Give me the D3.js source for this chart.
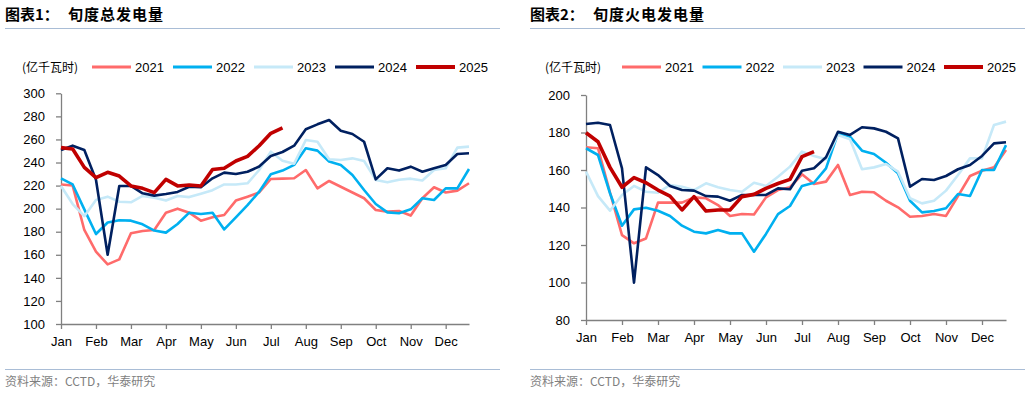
<!DOCTYPE html>
<html>
<head>
<meta charset="utf-8">
<script src="https://cdn.jsdelivr.net/npm/d3@7"></script>
<style>
  body { margin: 0; background: #fff; }
  svg { display: block; }
  .tick text { font-family: "Liberation Sans", Arial, sans-serif; font-size: 13px; fill: #000; }
</style>
</head>
<body>
<svg id="chart" width="1030" height="393"></svg>
<script>
const months = ['Jan', 'Feb', 'Mar', 'Apr', 'May', 'Jun', 'Jul', 'Aug', 'Sep', 'Oct', 'Nov', 'Dec'];
const years = ['2021', '2022', '2023', '2024', '2025'];
const colors = ['#ff6b6b', '#00b0f0', '#c6e9f8', '#002060', '#c00000'];

// 旬度总发电量 (亿千瓦时), 36 dekads per year
const total2021 = [221, 220, 181.5, 162.7, 151.7, 156, 178.6, 180.6, 181.5, 196.5, 200, 196.5, 189.6, 192.5, 194.5, 207, 210.4, 214, 225.7, 226, 226.3, 233.5, 217.6, 224, 219, 214, 209, 198.8, 197.4, 198, 194, 209, 218.5, 214, 215.6, 222];
const total2022 = [226.3, 221, 199.4, 178, 188, 190, 189.6, 186.4, 181, 179.2, 186.7, 196.5, 195.4, 196.5, 182, 192.5, 203, 214.7, 229.8, 233, 237.9, 252.3, 250.3, 240.8, 237.9, 229.2, 216.2, 204, 196.8, 196, 199.4, 209, 207.5, 217.6, 217.6, 234.4];
const total2023 = [219.7, 204, 193.5, 207.5, 210.4, 206, 205.5, 211, 209.5, 207, 211, 210, 213, 216, 221, 221, 222, 233.5, 249.4, 241.6, 239, 259.5, 258, 242.8, 242.2, 243.6, 241.3, 224.9, 222.8, 225, 226, 224.4, 233.5, 235, 252.9, 253.8];
const total2024 = [250.9, 254.6, 250.9, 225, 160, 219.7, 219.7, 213.3, 211.3, 212.7, 214.5, 219, 218.5, 226.3, 231.2, 230, 232, 236.5, 245.7, 249.1, 254.6, 268.8, 273.1, 276.9, 267.6, 264.7, 258, 225.4, 235, 233, 236.4, 232, 235, 237.9, 247.4, 248];
const total2025 = [252.9, 251.7, 235.8, 226.9, 231.5, 228.3, 219.7, 217.6, 213.9, 225.4, 219.7, 220.5, 219.7, 234, 235, 241.3, 245.3, 254.5, 265.3, 270];

// 旬度火电发电量 (亿千瓦时)
const thermal2021 = [172.1, 171.6, 148, 125.3, 120.9, 123.5, 142.6, 142.6, 142.6, 145.4, 144.9, 141.3, 135.5, 136.5, 136.3, 145.4, 149.3, 150.8, 157.7, 152.5, 153.8, 162.7, 146.7, 148.4, 148.1, 143.6, 140.1, 135.1, 135.5, 136.5, 135.5, 146.1, 156.8, 159.6, 161.4, 170.7];
const thermal2022 = [171.6, 168, 147.6, 130.3, 139, 139.9, 138.3, 135.5, 130.3, 127.1, 126.2, 128, 126.2, 126.2, 116.4, 125.9, 136.5, 140.8, 151.5, 153.2, 160.9, 179.6, 177.8, 170.3, 168.5, 163.9, 158.2, 143.6, 137.4, 138.1, 139.6, 147.2, 146.1, 160, 160, 173.3];
const thermal2023 = [159.1, 146.1, 138.3, 146.7, 151.5, 148.4, 147.9, 152, 151.1, 149.3, 152.9, 150.8, 149.3, 148.4, 153.2, 151.5, 156.4, 161.8, 169.8, 167.5, 165.7, 178.7, 176.4, 160.4, 161.4, 163.2, 159.1, 144.9, 142.2, 143.6, 149, 157.3, 166.2, 166.2, 184, 185.8];
const thermal2024 = [184.5, 185.2, 184, 160.9, 99.9, 161.4, 157.3, 151.5, 149.3, 149, 146.1, 145.8, 143.6, 146.7, 146.7, 146.7, 150.2, 149.7, 159.6, 160.9, 166.8, 180.4, 178.7, 182.8, 182.2, 180.4, 176.9, 151.1, 155.2, 154.7, 156.8, 160.4, 162.7, 167.5, 174.2, 174.8];
const thermal2025 = [179.9, 175.1, 161.4, 150.8, 155.9, 153.2, 149.3, 146.1, 138.7, 145.8, 138.1, 138.7, 138.7, 145.8, 147, 150.2, 152.8, 155, 167.1, 169.8];

const svg = d3.select('#chart');

function drawPanel(cfg) {
  const g = svg.append('g');

  // title + rules
  g.append('text')
    .attr('x', cfg.left).attr('y', 20)
    .attr('font-family', '"Noto Sans CJK SC", sans-serif')
    .attr('font-size', 15).attr('font-weight', 'bold').attr('fill', '#000')
    .text(cfg.label);
  g.append('text')
    .attr('x', cfg.left + 63).attr('y', 20)
    .attr('font-family', '"Noto Sans CJK SC", sans-serif')
    .attr('font-size', 15).attr('font-weight', 'bold').attr('fill', '#000')
    .attr('letter-spacing', 1)
    .text(cfg.title);
  g.append('line')
    .attr('x1', cfg.left).attr('x2', cfg.right)
    .attr('y1', 28.5).attr('y2', 28.5)
    .attr('stroke', '#a9bdd6').attr('stroke-width', 1.2);
  g.append('line')
    .attr('x1', cfg.left).attr('x2', cfg.right)
    .attr('y1', 369.5).attr('y2', 369.5)
    .attr('stroke', '#a9bdd6').attr('stroke-width', 1.2);
  g.append('text')
    .attr('x', cfg.left).attr('y', 386)
    .attr('font-family', '"Noto Sans CJK SC", sans-serif')
    .attr('font-size', 12).attr('fill', '#7f7f7f')
    .text('资料来源：CCTD，华泰研究');

  // legend
  g.append('text')
    .attr('x', cfg.unitX).attr('y', 72)
    .attr('font-family', '"Noto Sans CJK SC", sans-serif')
    .attr('font-size', 12).attr('fill', '#000')
    .text('(亿千瓦时)');
  years.forEach((yr, i) => {
    const lx = cfg.legendX + i * cfg.legendStep;
    g.append('line')
      .attr('x1', lx).attr('x2', lx + 39)
      .attr('y1', 67).attr('y2', 67)
      .attr('stroke', colors[i])
      .attr('stroke-width', i === 4 ? 4 : 3);
    g.append('text')
      .attr('x', lx + 43).attr('y', 72)
      .attr('font-family', '"Liberation Sans", Arial, sans-serif')
      .attr('font-size', 13).attr('fill', '#000')
      .text(yr);
  });

  const x = d3.scaleLinear().domain([0, 35]).range([cfg.x0, cfg.x1]);
  const y = d3.scaleLinear().domain(cfg.yDomain).range([cfg.yBottom, cfg.yTop]);

  const yAxis = g.append('g')
    .attr('transform', `translate(${cfg.x0},0)`)
    .call(d3.axisLeft(y).tickValues(d3.range(cfg.yDomain[0], cfg.yDomain[1] + 1, 20)).tickSize(5).tickPadding(11).tickSizeOuter(0));
  const xAxis = g.append('g')
    .attr('transform', `translate(0,${cfg.yBottom})`)
    .call(d3.axisBottom(x).tickValues(d3.range(0, 36, 3)).tickFormat((d, i) => months[i]).tickSize(5).tickPadding(8).tickSizeOuter(0));
  [yAxis, xAxis].forEach(a => {
    a.select('.domain').attr('stroke', '#808080').attr('stroke-width', 1.3);
    a.selectAll('.tick line').attr('stroke', '#808080').attr('stroke-width', 1.3);
  });

  const line = d3.line()
    .x((d, i) => x(i))
    .y(d => y(d));

  cfg.series.forEach((s, i) => {
    g.append('path')
      .datum(s)
      .attr('fill', 'none')
      .attr('stroke', colors[i])
      .attr('stroke-width', i === 4 ? 3.6 : 2.6)
      .attr('stroke-linejoin', 'round')
      .attr('d', line);
  });
}

drawPanel({
  label: '图表1：', title: '旬度总发电量',
  left: 5, right: 500,
  unitX: 22, legendX: 92, legendStep: 81,
  x0: 61, x1: 469, yTop: 93.3, yBottom: 324, yDomain: [100, 300],
  series: [total2021, total2022, total2023, total2024, total2025]
});

drawPanel({
  label: '图表2：', title: '旬度火电发电量',
  left: 530, right: 1025,
  unitX: 545, legendX: 622, legendStep: 80.5,
  x0: 586, x1: 1006, yTop: 95, yBottom: 320, yDomain: [80, 200],
  series: [thermal2021, thermal2022, thermal2023, thermal2024, thermal2025]
});
</script>
</body>
</html>
